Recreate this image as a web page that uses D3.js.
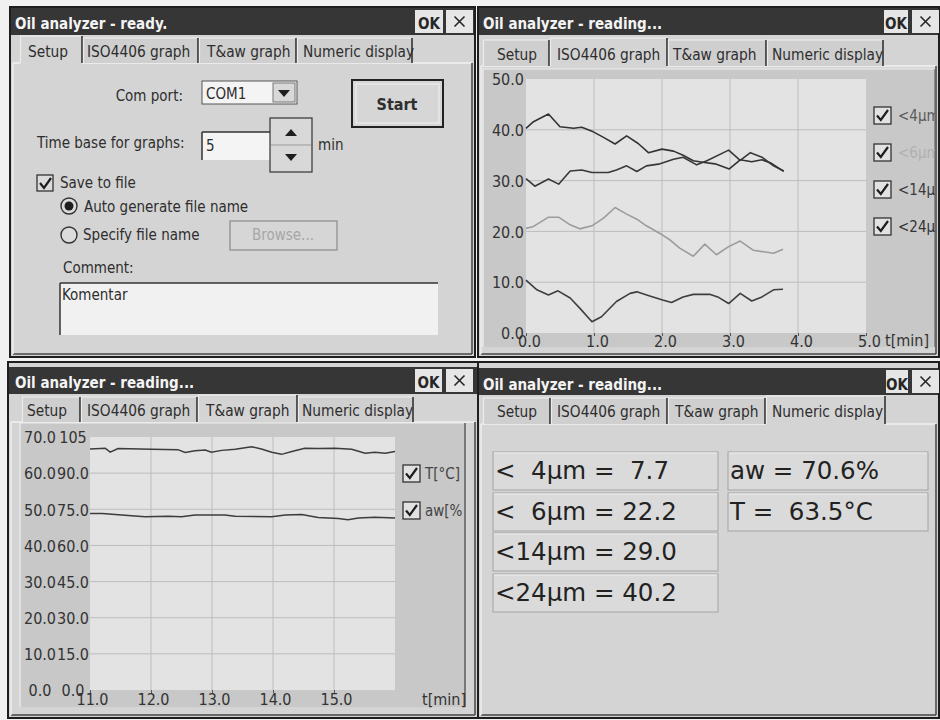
<!DOCTYPE html>
<html><head><meta charset="utf-8">
<script src="https://cdn.jsdelivr.net/npm/d3@7"></script>
<style>
body{margin:0;background:#f2f2f2;}
svg{display:block;font-family:"DejaVu Sans Condensed","DejaVu Sans",sans-serif;}
text{white-space:pre;}
</style></head><body>
<script>
// ---------------- DATA ----------------
const tabNames = ["Setup", "ISO4406 graph", "T&aw graph", "Numeric display"];
const titles = ["Oil analyzer - ready.", "Oil analyzer - reading...", "Oil analyzer - reading...", "Oil analyzer - reading..."];

// ISO4406 graph (t [min], count code)
const isoXTicks = [0, 1, 2, 3, 4, 5];
const isoYTicks = [0, 10, 20, 30, 40, 50];
const isoSeriesNames = ["<4µm", "<6µm", "<14µm", "<24µm"];
const iso4um = [[0,10.4],[0.16,8.5],[0.33,7.5],[0.47,8.3],[0.65,6.9],[0.79,4.9],[0.97,2.2],[1.11,3.2],[1.33,6.2],[1.53,7.8],[1.63,8.1],[1.82,7.3],[2.01,6.5],[2.14,6.0],[2.31,7.1],[2.46,7.6],[2.71,7.6],[2.82,7.1],[2.98,5.8],[3.15,7.8],[3.32,6.3],[3.47,7.1],[3.64,8.5],[3.78,8.6]];
const iso6um = [[0,20.6],[0.1,20.9],[0.33,22.8],[0.48,22.8],[0.65,21.3],[0.79,20.5],[0.97,21.1],[1.14,22.6],[1.31,24.7],[1.48,23.4],[1.63,22.4],[1.77,21.1],[1.97,19.6],[2.12,18.3],[2.26,16.7],[2.46,15.1],[2.63,17.5],[2.8,15.4],[2.98,17.0],[3.15,18.1],[3.34,16.3],[3.64,15.7],[3.78,16.5]];
const iso14um = [[0,30.4],[0.13,28.9],[0.33,30.3],[0.48,29.3],[0.65,31.9],[0.82,32.1],[0.97,31.6],[1.21,31.6],[1.33,32.1],[1.48,32.9],[1.63,31.8],[1.77,32.9],[1.97,33.3],[2.17,34.2],[2.31,34.6],[2.51,33.1],[2.66,33.9],[2.98,36.0],[3.15,34.0],[3.3,35.5],[3.47,34.6],[3.64,32.9],[3.79,31.9]];
const iso24um = [[0,40.3],[0.11,41.6],[0.33,43.1],[0.5,40.6],[0.7,40.3],[0.82,40.5],[0.99,39.6],[1.14,38.5],[1.31,37.2],[1.48,38.8],[1.65,37.3],[1.8,35.5],[2.0,36.2],[2.17,35.8],[2.31,35.0],[2.46,33.9],[2.6,33.6],[2.78,33.3],[2.99,32.3],[3.15,34.1],[3.32,33.7],[3.47,34.1],[3.61,33.4],[3.79,31.8]];

// T & aw graph
const tawXTicks = [11, 12, 13, 14, 15];
const tempTicks = [0, 10, 20, 30, 40, 50, 60, 70];
const awTicks = [0, 15, 30, 45, 60, 75, 90, 105];
const awTickLabels = ["0.0", "15.0", "30.0", "45.0", "60.0", "75.0", "90.0", "105"];
const tawSeriesNames = ["T[°C]", "aw[%]"];
const tempSeries = [[11,66.7],[11.25,66.9],[11.33,65.8],[11.46,66.8],[12.01,66.6],[12.44,66.5],[12.56,65.7],[12.72,66.2],[12.89,66.4],[12.99,65.8],[13.16,66.3],[13.38,66.6],[13.65,67.3],[13.81,66.7],[13.98,65.8],[14.14,65.2],[14.31,66.0],[14.52,66.9],[14.74,66.8],[15.02,66.9],[15.29,66.6],[15.51,65.5],[15.67,65.8],[15.84,65.5],[16,66.0]];
const awSeries = [[11,73.3],[11.2,73.2],[11.52,72.6],[11.9,71.9],[12.28,72.1],[12.5,71.9],[12.72,72.6],[13.21,72.6],[13.38,72.1],[13.98,71.9],[14.2,72.6],[14.47,72.8],[14.74,71.6],[15.07,71.2],[15.23,70.7],[15.4,71.4],[15.67,71.7],[16,71.4]];

// Numeric display
const particleSizes = [4, 6, 14, 24];
const particleValues = [7.7, 22.2, 29.0, 40.2];
const awValue = 70.6;
const tempValue = 63.5;

// ---------------- DRAWING ----------------
const PANEL = "#d4d4d4", TITLE = "#363636", INK = "#262626";
const svg = d3.select("body").append("svg").attr("width", 940).attr("height", 720);
svg.append("rect").attr("width", 940).attr("height", 720).attr("fill", "#f1f1f1");

const dialogs = [
 {x0:10,x1:475,y0:7,y1:357,t0:8,t1:35,tb:29,tx:15,ok:[415,443],cl:[446,473],tabs:[[20,82],[83,198],[199,296],[297,412]],tabX:[28,87,207,303],tabTop:38,tabBot:63,tabBase:57},
 {x0:478,x1:939,y0:7,y1:357,t0:8,t1:35,tb:29,tx:483,ok:[884,908],cl:[912,939],tabs:[[483,549],[550,667],[668,766],[767,883]],tabX:[497,557,673,772],tabTop:40,tabBot:66,tabBase:60},
 {x0:8,x1:478,y0:362,y1:718,t0:367,t1:394,tb:388,tx:15,ok:[415,442],cl:[446,473],tabs:[[22,80],[81,197],[198,297],[298,413]],tabX:[27,87,206,302],tabTop:397,tabBot:422,tabBase:416},
 {x0:478,x1:939,y0:362,y1:718,t0:368,t1:395,tb:390,tx:483,ok:[886,908],cl:[912,939],tabs:[[483,550],[551,667],[668,765],[766,885]],tabX:[497,557,675,772],tabTop:398,tabBot:424,tabBase:417}
];

function line(g, x1, y1, x2, y2, c, w) {
  g.append("line").attr("x1", x1).attr("y1", y1).attr("x2", x2).attr("y2", y2)
   .attr("stroke", c).attr("stroke-width", w || 1);
}

dialogs.forEach((d, i) => {
  const g = svg.append("g");
  g.append("rect").attr("x", d.x0).attr("y", d.y0).attr("width", d.x1 - d.x0).attr("height", d.y1 - d.y0)
   .attr("fill", PANEL).attr("stroke", "#1e1e1e").attr("stroke-width", 2);
  g.append("rect").attr("x", d.x0 + 1).attr("y", d.t0).attr("width", d.x1 - d.x0 - 2).attr("height", d.t1 - d.t0).attr("fill", TITLE);
  g.append("text").attr("x", d.tx).attr("y", d.tb).attr("fill", "#f4f4f4").attr("font-size", 15).attr("font-weight", "bold").text(titles[i]);
  // OK button
  g.append("rect").attr("x", d.ok[0]).attr("y", d.t0 + 2).attr("width", d.ok[1] - d.ok[0]).attr("height", d.t1 - d.t0 - 4).attr("fill", "#e6e6e6");
  g.append("text").attr("x", (d.ok[0] + d.ok[1]) / 2).attr("y", d.tb).attr("text-anchor", "middle").attr("fill", INK)
   .attr("font-size", 15).attr("font-weight", "bold").text("OK");
  // close button
  g.append("rect").attr("x", d.cl[0]).attr("y", d.t0 + 2).attr("width", d.cl[1] - d.cl[0]).attr("height", d.t1 - d.t0 - 4).attr("fill", "#e6e6e6");
  const cx = (d.cl[0] + d.cl[1]) / 2, cy = (d.t0 + d.t1) / 2;
  line(g, cx - 5, cy - 5, cx + 5, cy + 5, INK, 1.6);
  line(g, cx + 5, cy - 5, cx - 5, cy + 5, INK, 1.6);
  // content panel
  g.append("rect").attr("x", d.x0 + 3).attr("y", d.tabBot).attr("width", d.x1 - d.x0 - 6).attr("height", d.y1 - d.tabBot - 3)
   .attr("fill", PANEL);
  line(g, d.x0 + 3, d.tabBot, d.x1 - 3, d.tabBot, "#f2f2f2", 1.5);
  line(g, d.x1 - 3, d.tabBot, d.x1 - 3, d.y1 - 3, "#444", 1.5);
  line(g, d.x0 + 3, d.y1 - 3, d.x1 - 3, d.y1 - 3, "#444", 1.5);
  line(g, d.x0 + 3, d.tabBot, d.x0 + 3, d.y1 - 3, "#eeeeee", 1.5);
  // tabs
  d.tabs.forEach((t, k) => {
    const sel = k === i;
    const top = sel ? d.tabTop - 2 : d.tabTop;
    g.append("rect").attr("x", t[0]).attr("y", top).attr("width", t[1] - t[0]).attr("height", d.tabBot - top + (sel ? 1.5 : 0))
     .attr("fill", sel ? PANEL : "#cfcfcf");
    line(g, t[0], top, t[1], top, "#efefef", 1.2);
    line(g, t[0] + 0.5, top, t[0] + 0.5, d.tabBot, "#ececec", 1.2);
    line(g, t[1], top, t[1], d.tabBot, "#333", 1.6);
    g.append("text").attr("x", d.tabX[k]).attr("y", d.tabBase).attr("fill", "#2e2e2e").attr("font-size", 15.3).text(tabNames[k]);
  });
});

// ---------- Setup page (top-left) ----------
(function () {
  const g = svg.append("g").attr("fill", "#2e2e2e").attr("font-size", 15);
  g.append("text").attr("x", 183).attr("y", 101).attr("text-anchor", "end").text("Com port:");
  // combo
  g.append("rect").attr("x", 202).attr("y", 81).attr("width", 95).attr("height", 23).attr("fill", "#f4f4f4").attr("stroke", "#555").attr("stroke-width", 1);
  g.append("text").attr("x", 206).attr("y", 99).text("COM1");
  g.append("rect").attr("x", 273).attr("y", 83).attr("width", 22).attr("height", 19).attr("fill", "#d8d8d8").attr("stroke", "#777");
  g.append("path").attr("d", "M278,90 L290,90 L284,97 Z").attr("fill", "#1e1e1e");
  // Start button
  g.append("rect").attr("x", 352).attr("y", 80).attr("width", 91).attr("height", 47).attr("fill", "#d6d6d6").attr("stroke", "#222").attr("stroke-width", 2);
  g.append("rect").attr("x", 356).attr("y", 84).attr("width", 83).attr("height", 39).attr("fill", "none").attr("stroke", "#f0f0f0").attr("stroke-width", 1);
  g.append("text").attr("x", 397).attr("y", 110).attr("text-anchor", "middle").attr("font-weight", "bold").attr("font-size", 16).text("Start");
  // time base
  g.append("text").attr("x", 37).attr("y", 148).text("Time base for graphs:");
  g.append("rect").attr("x", 202).attr("y", 132).attr("width", 68).attr("height", 28).attr("fill", "#f4f4f4");
  line(g, 202, 132, 270, 132, "#333", 1.5); line(g, 202, 132, 202, 160, "#333", 1.5);
  g.append("text").attr("x", 206).attr("y", 151).text("5");
  g.append("rect").attr("x", 270).attr("y", 118).attr("width", 42).attr("height", 54).attr("fill", "#d8d8d8").attr("stroke", "#333").attr("stroke-width", 1.2);
  line(g, 271, 145, 311, 145, "#999", 1);
  g.append("path").attr("d", "M285,136 L297,136 L291,129 Z").attr("fill", "#1e1e1e");
  g.append("path").attr("d", "M285,154 L297,154 L291,161 Z").attr("fill", "#1e1e1e");
  g.append("text").attr("x", 318).attr("y", 150).text("min");
  // save to file checkbox
  g.append("rect").attr("x", 37).attr("y", 175).attr("width", 16).attr("height", 16).attr("fill", "#dcdcdc").attr("stroke", "#333").attr("stroke-width", 1.3);
  g.append("path").attr("d", "M40,183 L44,188 L51,178").attr("fill", "none").attr("stroke", "#1e1e1e").attr("stroke-width", 2.2);
  g.append("text").attr("x", 60).attr("y", 188).text("Save to file");
  // radios
  g.append("circle").attr("cx", 69).attr("cy", 206).attr("r", 8).attr("fill", "#dcdcdc").attr("stroke", "#333").attr("stroke-width", 1.4);
  g.append("circle").attr("cx", 69).attr("cy", 206).attr("r", 4.5).attr("fill", "#1e1e1e");
  g.append("text").attr("x", 84).attr("y", 212).text("Auto generate file name");
  g.append("circle").attr("cx", 69).attr("cy", 235).attr("r", 8).attr("fill", "#dcdcdc").attr("stroke", "#333").attr("stroke-width", 1.4);
  g.append("text").attr("x", 83).attr("y", 240).text("Specify file name");
  g.append("rect").attr("x", 230).attr("y", 221).attr("width", 107).attr("height", 29).attr("fill", "#d6d6d6").attr("stroke", "#8a8a8a").attr("stroke-width", 1.2);
  g.append("text").attr("x", 283).attr("y", 240).attr("text-anchor", "middle").attr("fill", "#a6a6a6").text("Browse...");
  g.append("text").attr("x", 63).attr("y", 273).text("Comment:");
  g.append("rect").attr("x", 60).attr("y", 283).attr("width", 378).attr("height", 52).attr("fill", "#f1f1f1");
  line(g, 60, 283, 438, 283, "#333", 1.5); line(g, 60, 283, 60, 335, "#333", 1.5);
  g.append("text").attr("x", 62).attr("y", 300).text("Komentar");
})();

// ---------- chart helper ----------
function checkbox(g, x, y, s) {
  g.append("rect").attr("x", x).attr("y", y).attr("width", s).attr("height", s).attr("fill", "#e2e2e2").attr("stroke", "#333").attr("stroke-width", 1.3);
  g.append("path").attr("d", `M${x+3},${y+s*0.5} L${x+s*0.4},${y+s-4} L${x+s-3},${y+3}`).attr("fill", "none").attr("stroke", "#1e1e1e").attr("stroke-width", 2.2);
}

// ---------- ISO4406 graph (top-right) ----------
(function () {
  const g = svg.append("g");
  const box = {x0: 483, x1: 935, y0: 69, y1: 347};
  g.append("clipPath").attr("id", "isoClip").append("rect").attr("x", box.x0).attr("y", box.y0).attr("width", box.x1 - box.x0).attr("height", box.y1 - box.y0);
  g.append("rect").attr("x", box.x0).attr("y", box.y0).attr("width", box.x1 - box.x0).attr("height", box.y1 - box.y0).attr("fill", "#c8c8c8");
  line(g, box.x0, box.y0, box.x1, box.y0, "#eeeeee", 1.2);
  line(g, box.x0, box.y0, box.x0, box.y1, "#eeeeee", 1.2);
  line(g, box.x1, box.y0, box.x1, box.y1, "#666", 1.2);
  const x = d3.scaleLinear().domain([0, 5]).range([526, 866]);
  const y = d3.scaleLinear().domain([0, 50]).range([333, 79]);
  g.append("rect").attr("x", x(0)).attr("y", y(50)).attr("width", x(5) - x(0)).attr("height", y(0) - y(50)).attr("fill", "#e3e3e3");
  isoXTicks.slice(1, -1).forEach(t => line(g, x(t), y(50), x(t), y(0), "#bdbdbd", 1));
  isoYTicks.slice(1, -1).forEach(t => line(g, x(0), y(t), x(5), y(t), "#bdbdbd", 1));
  const ax = g.append("g").attr("transform", `translate(0,${y(0)})`)
    .call(d3.axisBottom(x).tickValues(isoXTicks).tickFormat(d3.format(".1f")).tickSize(3).tickPadding(0));
  ax.select(".domain").remove();
  ax.selectAll("line").attr("stroke", "#555");
  ax.selectAll("text").attr("dx", 3).attr("font-size", 16).attr("fill", "#333");
  const ay = g.append("g").attr("transform", `translate(${x(0)},0)`)
    .call(d3.axisLeft(y).tickValues(isoYTicks).tickFormat(d3.format(".1f")).tickSize(0).tickPadding(2));
  ay.select(".domain").remove();
  ay.selectAll("text").attr("font-size", 16).attr("fill", "#333").attr("dy", "0.36em");
  [ax, ay].forEach(a => a.attr("font-family", null));
  g.append("text").attr("x", 885).attr("y", 346).attr("font-size", 16).attr("fill", "#333").text("t[min]");
  const series = [iso4um, iso6um, iso14um, iso24um];
  const colors = ["#3e3e3e", "#9c9c9c", "#383838", "#333333"];
  const textColors = ["#5a5a5a", "#b0b0b0", "#3a3a3a", "#333"];
  const ln = d3.line().x(d => x(d[0])).y(d => y(d[1]));
  series.forEach((s, k) => g.append("path").attr("d", ln(s)).attr("fill", "none").attr("stroke", colors[k]).attr("stroke-width", 1.6).attr("stroke-linejoin", "round"));
  const leg = g.append("g").attr("clip-path", "url(#isoClip)");
  isoSeriesNames.forEach((n, k) => {
    const yy = 107 + k * 37;
    checkbox(leg, 874, yy, 17);
    leg.append("text").attr("x", 898).attr("y", yy + 14).attr("font-size", 15).attr("fill", textColors[k]).text(n);
  });
})();

// ---------- T&aw graph (bottom-left) ----------
(function () {
  const g = svg.append("g");
  const box = {x0: 20, x1: 465, y0: 423, y1: 707};
  g.append("clipPath").attr("id", "tawClip").append("rect").attr("x", box.x0).attr("y", box.y0).attr("width", box.x1 - box.x0 - 2).attr("height", box.y1 - box.y0);
  g.append("rect").attr("x", box.x0).attr("y", box.y0).attr("width", box.x1 - box.x0).attr("height", box.y1 - box.y0).attr("fill", "#c8c8c8");
  line(g, box.x0, box.y0, box.x1, box.y0, "#eeeeee", 1.2);
  line(g, box.x0, box.y0, box.x0, box.y1, "#eeeeee", 1.2);
  line(g, box.x1, box.y0, box.x1, box.y1, "#555", 1.4);
  const x = d3.scaleLinear().domain([11, 16]).range([90, 395]);
  const yT = d3.scaleLinear().domain([0, 70]).range([690, 437]);
  const yA = d3.scaleLinear().domain([0, 105]).range([690, 437]);
  g.append("rect").attr("x", x(11)).attr("y", yT(70)).attr("width", x(16) - x(11)).attr("height", yT(0) - yT(70)).attr("fill", "#e3e3e3");
  tawXTicks.slice(1).forEach(t => line(g, x(t), yT(70), x(t), yT(0), "#bdbdbd", 1));
  tempTicks.slice(1, -1).forEach(t => line(g, x(11), yT(t), x(16), yT(t), "#bdbdbd", 1));
  const ax = g.append("g").attr("transform", `translate(0,${yT(0)})`)
    .call(d3.axisBottom(x).tickValues(tawXTicks).tickFormat(d3.format(".1f")).tickSize(3).tickPadding(1));
  ax.select(".domain").remove();
  ax.selectAll("line").attr("stroke", "#555");
  ax.selectAll("text").attr("dx", 2).attr("font-size", 16).attr("fill", "#333");
  const ayT = g.append("g").attr("transform", "translate(40,0)")
    .call(d3.axisLeft(yT).tickValues(tempTicks).tickFormat(d3.format(".1f")).tickSize(0).tickPadding(0));
  ayT.select(".domain").remove();
  ayT.selectAll("text").attr("text-anchor", "middle").attr("font-size", 16).attr("fill", "#333").attr("dy", "0.36em");
  const ayA = g.append("g").attr("transform", "translate(73,0)")
    .call(d3.axisLeft(yA).tickValues(awTicks).tickFormat((d, i) => awTickLabels[i]).tickSize(0).tickPadding(0));
  ayA.select(".domain").remove();
  ayA.selectAll("text").attr("text-anchor", "middle").attr("font-size", 16).attr("fill", "#333").attr("dy", "0.36em");
  [ax, ayT, ayA].forEach(a => a.attr("font-family", null));
  g.append("text").attr("x", 422).attr("y", 705).attr("font-size", 16).attr("fill", "#333").text("t[min]");
  g.append("path").attr("d", d3.line().x(d => x(d[0])).y(d => yT(d[1]))(tempSeries)).attr("fill", "none").attr("stroke", "#3c3c3c").attr("stroke-width", 1.5);
  g.append("path").attr("d", d3.line().x(d => x(d[0])).y(d => yA(d[1]))(awSeries)).attr("fill", "none").attr("stroke", "#3c3c3c").attr("stroke-width", 1.5);
  const leg = g.append("g").attr("clip-path", "url(#tawClip)");
  tawSeriesNames.forEach((n, k) => {
    const yy = 465 + k * 37;
    checkbox(leg, 403, yy, 17);
    leg.append("text").attr("x", 425).attr("y", yy + 14).attr("font-size", 15).attr("fill", "#444").text(n);
  });
})();

// ---------- Numeric display (bottom-right) ----------
(function () {
  const g = svg.append("g").attr("font-family", "'DejaVu Sans', sans-serif");
  const fmt = d3.format("4.1f");
  const leftRows = particleSizes.map((s, k) => "<" + (s < 10 ? "  " + s : String(s)) + "µm = " + fmt(particleValues[k]));
  const rightRows = ["aw = " + d3.format(".1f")(awValue) + "%", "T =  " + d3.format(".1f")(tempValue) + "°C"];
  const rowY = [452, 493, 533, 574];
  function cell(x0, w, y0, txt) {
    g.append("rect").attr("x", x0).attr("y", y0).attr("width", w).attr("height", 38).attr("fill", "#dadada").attr("stroke", "#a4a4a4").attr("stroke-width", 1);
    line(g, x0 + 1, y0 + 1, x0 + w - 1, y0 + 1, "#efefef", 1);
    g.append("text").attr("x", x0 + 2).attr("y", y0 + 27).attr("font-size", 24.5).attr("fill", "#222").text(txt);
  }
  leftRows.forEach((t, k) => cell(493, 225, rowY[k], t));
  rightRows.forEach((t, k) => cell(728, 200, rowY[k], t));
})();
</script>
</body></html>
